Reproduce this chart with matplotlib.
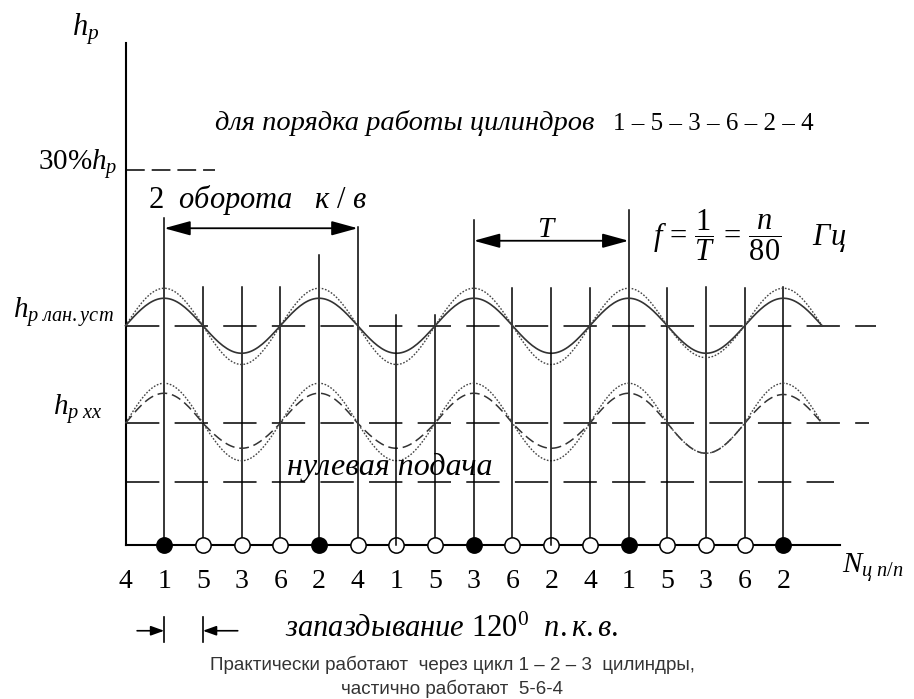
import numpy as np
import matplotlib
matplotlib.use("Agg")
import matplotlib.pyplot as plt

plt.rcParams["font.family"] = ["Liberation Serif", "DejaVu Serif"]
plt.rcParams["mathtext.fontset"] = "custom"
plt.rcParams["mathtext.rm"] = "Liberation Serif"
plt.rcParams["mathtext.it"] = "Liberation Serif:italic"
plt.rcParams["mathtext.bf"] = "Liberation Serif:bold"
plt.rcParams["lines.scale_dashes"] = False

# cylinder order along the crank-angle axis, one slot = 120 deg
cyl_labels = ["4", "1", "5", "3", "6", "2", "4", "1", "5", "3",
              "6", "2", "4", "1", "5", "3", "6", "2"]
working = [1, 5, 9, 13, 17]      # filled dots: cylinders 1-2-3
crossed = [7, 11]                # stems drawn through the open dot
stem_top = [26.1, 20.6, 20.6, 20.6, 23.2, 25.4, 18.4, 18.4, 26.0,
            20.5, 20.5, 20.5, 26.8, 20.5, 20.6, 20.5, 20.6]

# rack travel levels
lvl_30 = 30.0
lvl_max = 17.5
lvl_idle = 9.7
lvl_zero = 5.0
axis_top = 40.1
axis_end = 18.46

# half-wave amplitudes (peak, trough, peak, ...)
amp_max_solid = [2.2, 2.2, 2.2, 2.2, 2.2, 2.2, 2.2, 2.2, 2.2]
amp_max_dotted = [3.0, 3.1, 3.0, 3.1, 3.0, 3.1, 3.0, 2.55, 3.0]
amp_idle_dashed = [2.4, 2.0, 2.4, 2.0, 2.4, 2.0, 2.4, 2.4, 2.3]
amp_idle_dotted = [3.2, 3.0, 3.2, 3.0, 3.2, 3.0, 3.2, 2.4, 3.2]


def wave(base, amps, n=40):
    xs, ys = [], []
    for j, a in enumerate(amps):
        t = np.linspace(0, 1, n)
        xs.append(2 * j + 2 * t)
        ys.append(base + (-1) ** j * a * np.sin(np.pi * t))
    return np.concatenate(xs), np.concatenate(ys)


fig = plt.figure(figsize=(9.14, 6.99), dpi=100)
ax = fig.add_axes([0, 0, 1, 1])
ax.set_xlim(-3.243, 20.375)
ax.set_ylim(-12.36, 43.56)
ax.axis("off")

# axes
ax.plot([0, 0], [0, axis_top], color="k", lw=1.5, zorder=3)
ax.plot([0, axis_end], [0, 0], color="k", lw=1.5, zorder=3)

# level lines
long_dash = (0, (24, 11))
ax.plot([0, 19.4], [lvl_max, lvl_max], color="k", lw=1.1, ls=long_dash)
ax.plot([0, 19.2], [lvl_idle, lvl_idle], color="k", lw=1.1, ls=long_dash)
ax.plot([0, 18.3], [lvl_zero, lvl_zero], color="k", lw=1.1, ls=long_dash)
ax.plot([0, 2.3], [lvl_30, lvl_30], color="k", lw=1.1, ls=(0, (13.5, 5)))

# stems and dots
for s, top in enumerate(stem_top, start=1):
    ax.plot([s, s], [0, top], color="k", lw=1.1, zorder=5 if s in crossed else 2)
    filled = s in working
    ax.plot(s, 0, "o", ms=11, mec="k", mew=1.1,
            mfc="k" if filled else "white", zorder=4)

for i, lab in enumerate(cyl_labels):
    ax.text(i, -3.5, lab, ha="center", va="baseline", fontsize=20)

# pulsations
x, y = wave(lvl_max, amp_max_solid)
ax.plot(x, y, color="#333333", lw=1.2, zorder=3)
x, y = wave(lvl_max, amp_max_dotted)
ax.plot(x, y, color="#444444", lw=1.0, ls=(0, (1.2, 1.2)), zorder=3)
x, y = wave(lvl_idle, amp_idle_dashed)
ax.plot(x, y, color="#333333", lw=1.1, ls=(0, (7, 3.5)), zorder=3)
x, y = wave(lvl_idle, amp_idle_dotted)
ax.plot(x, y, color="#444444", lw=1.0, ls=(0, (1.2, 1.2)), zorder=3)

# dimension arrows
big_head = dict(arrowstyle="<|-|>,head_length=0.8,head_width=0.22",
                mutation_scale=20, lw=1.3, color="k", shrinkA=0, shrinkB=0)
ax.annotate("", xy=(1, 25.3), xytext=(6, 25.3), arrowprops=big_head)
ax.annotate("", xy=(9, 24.3), xytext=(13, 24.3), arrowprops=big_head)

small_head = dict(arrowstyle="-|>,head_length=0.5,head_width=0.18",
                  mutation_scale=16, lw=1.2, color="k", shrinkA=0, shrinkB=0)
ax.annotate("", xy=(1, -6.9), xytext=(0.3, -6.9), arrowprops=small_head)
ax.annotate("", xy=(2, -6.9), xytext=(2.9, -6.9), arrowprops=small_head)
ax.plot([1, 1], [-5.8, -7.8], color="k", lw=1.2)
ax.plot([2, 2], [-5.8, -7.8], color="k", lw=1.2)

# texts
ax.text(-1.38, 40.76, "$h_p$", fontsize=22, va="baseline")
ax.text(-0.2, 30.0, "30%$h_p$", fontsize=21, ha="right", va="baseline")
ax.text(2.31, 33.16, "для порядка работы цилиндров", fontsize=20.5,
        style="italic", va="baseline")
ax.text(12.6, 33.16, "1 – 5 – 3 – 6 – 2 – 4", fontsize=18, va="baseline")
ax.text(0.58, 26.9, r"2  $\mathit{оборота}$   $\mathit{к}$ / $\mathit{в}$",
        fontsize=22, va="baseline")
ax.text(10.9, 24.6, "$T$", fontsize=21, ha="center", va="baseline")
ax.text(13.63, 24.76,
        r"$f\,=\,\dfrac{1}{T}\,=\,\dfrac{n}{80}\ \ \ \ Гц$",
        fontsize=22, va="center")
ax.text(-2.91, 18.12, r"$h_{p\ лан.уст}$", fontsize=21, va="baseline")
ax.text(-1.87, 10.36, r"$h_{p\ xx}$", fontsize=21, va="baseline")
ax.text(4.17, 5.56, "нулевая подача", fontsize=23, style="italic", va="baseline")
ax.text(18.51, -2.28, r"$N_{ц\ п/п}$", fontsize=21, va="baseline")
ax.text(4.12, -7.4, r"$\mathit{запаздывание}$ 120$^{0}$  $\mathit{п.к.в.}$",
        fontsize=22, va="baseline")

caption = ["Практически работают  через цикл 1 – 2 – 3  цилиндры,",
           "частично работают  5-6-4"]
ax.text(8.44, -9.64, caption[0], fontsize=13.5, family="Liberation Sans",
        color="#333333", ha="center", va="center")
ax.text(8.44, -11.56, caption[1], fontsize=13.5, family="Liberation Sans",
        color="#333333", ha="center", va="center")

fig.savefig("out.png", dpi=100)
